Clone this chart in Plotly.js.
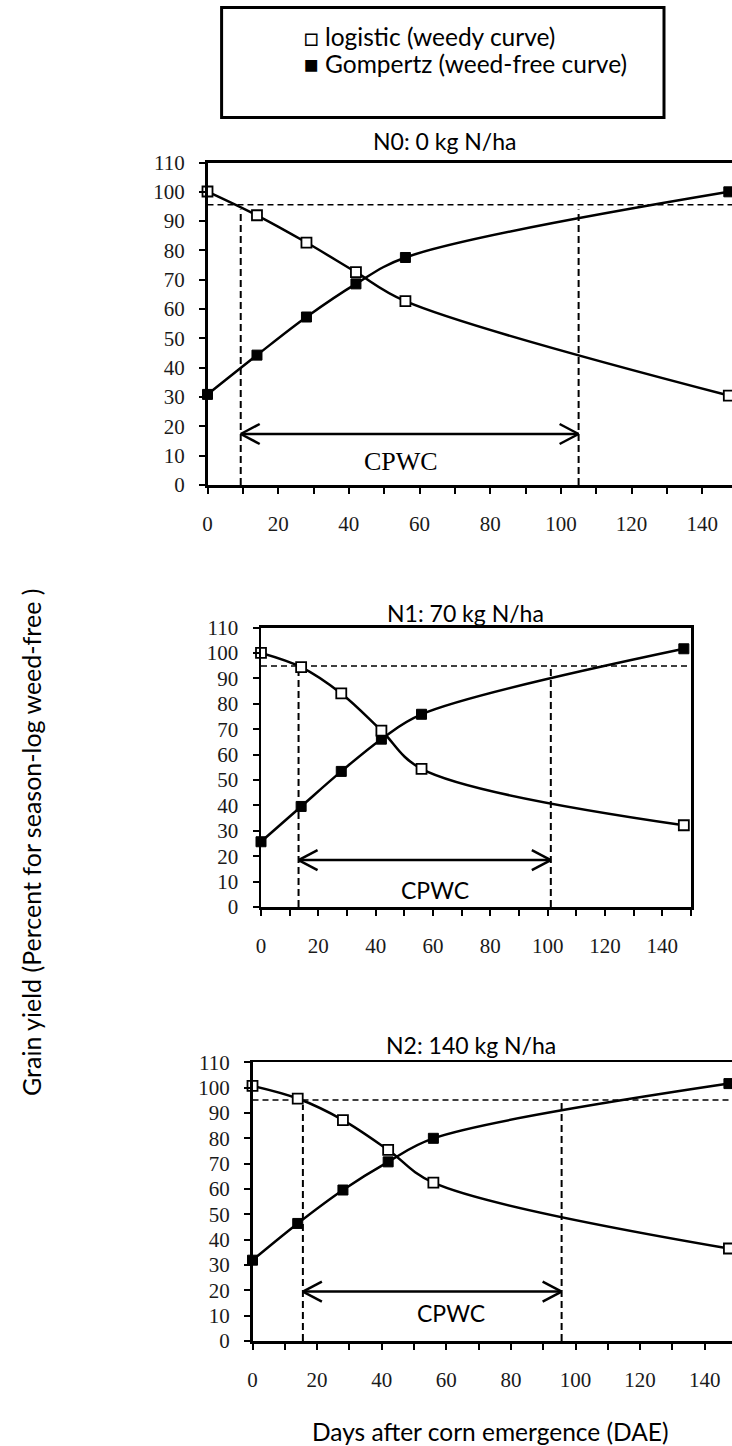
<!DOCTYPE html>
<html>
<head>
<meta charset="utf-8">
<script src="https://cdn.plot.ly/plotly-3.0.1.min.js"></script>
<style>html,body{margin:0;padding:0;background:#fff;}#chart{width:732px;height:1446px;}</style>
</head>
<body>
<div id="chart"></div>
<script>
// ---- data ----
const days = [0, 14, 28, 42, 56, 147.5];
const panelTitles = ["N0: 0 kg N/ha", "N1: 70 kg N/ha", "N2: 140 kg N/ha"];
const logisticN0 = [100.1, 92.0, 82.7, 72.6, 62.7, 30.5];
const gompertzN0 = [30.9, 44.3, 57.3, 68.6, 77.6, 100.0];
const logisticN1 = [100.1, 94.5, 84.1, 69.5, 54.4, 32.2];
const gompertzN1 = [25.7, 39.6, 53.4, 66.1, 75.9, 101.7];
const logisticN2 = [100.7, 95.7, 87.2, 75.4, 62.5, 36.5];
const gompertzN2 = [31.9, 46.4, 59.6, 70.7, 80.0, 101.6];
const yieldLevel = [95.6, 94.9, 95.1];      // horizontal dashed line (yield %)
const cpwcStart = [9.4, 13.1, 15.6];        // DAE
const cpwcEnd = [105.0, 101.1, 95.7];       // DAE
const cpwcLeftTop = [94, 94.6, 93.2];
const cpwcRightTop = [94, 94.9, 95.5];
const arrowLevel = [17.4, 18.5, 19.5];
const xTickVals = [0,10,20,30,40,50,60,70,80,90,100,110,120,130,140,150];
const xTickText = ["0","","20","","40","","60","","80","","100","","120","","140",""];
const yTickVals = [0,10,20,30,40,50,60,70,80,90,100,110];
const yTickText = ["0","10","20","30","40","50","60","70","80","90","100","110"];
const legendLabels = ["□ logistic (weedy curve)", "■ Gompertz (weed-free curve)"];
const xTitle = "Days after corn emergence (DAE)";
const yTitle = "Grain yield (Percent for season-log weed-free )";

const logistic = [logisticN0, logisticN1, logisticN2];
const gompertz = [gompertzN0, gompertzN1, gompertzN2];

// ---- layout geometry (pixels) ----
const W = 732, H = 1446;
const px = v => v / W;
const py = v => 1 - v / H;
const geo = [
  {l: 207.5, r: 732, t: 162.5, b: 485, xmax: 148.4, mirrorY: false},
  {l: 261, r: 691, t: 627.7, b: 907, xmax: 150, mirrorY: true},
  {l: 252.5, r: 732, t: 1062.3, b: 1341, xmax: 148.45, mirrorY: false}
];

const traces = [];
const shapes = [];
const annotations = [];
const layout = {
  width: W, height: H,
  margin: {l: 0, r: 0, t: 0, b: 0},
  paper_bgcolor: '#fff', plot_bgcolor: 'rgba(0,0,0,0)',
  font: {family: 'Liberation Serif, Times New Roman, serif', size: 21, color: '#1a1a1a'},
  showlegend: false,
  shapes: shapes, annotations: annotations
};

const serif = 'Liberation Serif, Times New Roman, serif';
const sansFont = 'Lato';

for (let i = 0; i < 3; i++) {
  const g = geo[i];
  const xa = i === 0 ? 'x' : 'x' + (i + 1);
  const ya = i === 0 ? 'y' : 'y' + (i + 1);
  const xk = i === 0 ? 'xaxis' : 'xaxis' + (i + 1);
  const yk = i === 0 ? 'yaxis' : 'yaxis' + (i + 1);
  layout[xk] = {
    domain: [px(g.l), px(g.r)], anchor: ya, range: [0, g.xmax],
    tickmode: 'array', tickvals: xTickVals, ticktext: xTickText,
    showline: true, linewidth: 2.5, linecolor: '#000', mirror: true,
    ticks: 'outside', ticklen: 6, tickwidth: 2, tickcolor: '#000',
    showgrid: false, zeroline: false,
    tickfont: {family: serif, size: 21, color: '#1a1a1a'}, ticklabelstandoff: 12
  };
  layout[yk] = {
    domain: [py(g.b), py(g.t)], anchor: xa, range: [0, 110],
    tickmode: 'array', tickvals: yTickVals, ticktext: yTickText,
    showline: true, linewidth: 2.5, linecolor: '#000', mirror: g.mirrorY,
    ticks: 'outside', ticklen: 6, tickwidth: 2, tickcolor: '#000',
    showgrid: false, zeroline: false,
    tickfont: {family: serif, size: 21, color: '#1a1a1a'}, ticklabelstandoff: 10
  };

  // dashed reference lines
  const dashV = {color: '#000', width: 2, dash: '7px,4px'};
  shapes.push({type: 'line', xref: xa, yref: ya, x0: 0, x1: 150, y0: yieldLevel[i], y1: yieldLevel[i],
    line: {color: '#000', width: 1.4, dash: '6px,4px'}, layer: 'below'});
  shapes.push({type: 'line', xref: xa, yref: ya, x0: cpwcStart[i], x1: cpwcStart[i], y0: 0, y1: cpwcLeftTop[i], line: dashV, layer: 'below'});
  shapes.push({type: 'line', xref: xa, yref: ya, x0: cpwcEnd[i], x1: cpwcEnd[i], y0: 0, y1: cpwcRightTop[i], line: dashV, layer: 'below'});

  // CPWC arrow
  const aLine = {color: '#000', width: 2.5};
  shapes.push({type: 'line', xref: xa, yref: ya, x0: cpwcStart[i], x1: cpwcEnd[i], y0: arrowLevel[i], y1: arrowLevel[i], line: aLine});
  [10, -10].forEach(dy => {
    shapes.push({type: 'line', xref: xa, yref: ya, xsizemode: 'pixel', ysizemode: 'pixel',
      xanchor: cpwcStart[i], yanchor: arrowLevel[i], x0: 0, x1: 19, y0: 0, y1: dy, line: aLine});
    shapes.push({type: 'line', xref: xa, yref: ya, xsizemode: 'pixel', ysizemode: 'pixel',
      xanchor: cpwcEnd[i], yanchor: arrowLevel[i], x0: 0, x1: -19, y0: 0, y1: dy, line: aLine});
  });

  traces.push({
    x: days, y: gompertz[i], xaxis: xa, yaxis: ya, type: 'scatter', mode: 'lines+markers',
    line: {color: '#000', width: 2.5, shape: 'spline', smoothing: 1},
    marker: {symbol: 'square', size: 10, color: '#000', line: {color: '#000', width: 1}},
    cliponaxis: false, hoverinfo: 'skip'
  });
  traces.push({
    x: days, y: logistic[i], xaxis: xa, yaxis: ya, type: 'scatter', mode: 'lines+markers',
    line: {color: '#000', width: 2.5, shape: 'spline', smoothing: 1},
    marker: {symbol: 'square', size: 10, color: '#fff', line: {color: '#000', width: 1.8}},
    cliponaxis: false, hoverinfo: 'skip'
  });
}

// panel titles
const titlePos = [[444.7, 141], [465.6, 613.3], [471, 1045]];
panelTitles.forEach((t, i) => {
  annotations.push({text: t, xref: 'paper', yref: 'paper', x: px(titlePos[i][0]), y: py(titlePos[i][1]),
    xanchor: 'center', yanchor: 'middle', showarrow: false,
    font: {family: sansFont, size: 23, color: '#000'}});
});

// CPWC labels
annotations.push({text: 'CPWC', xref: 'x', yref: 'y', x: 54.7, y: 7.95, showarrow: false,
  xanchor: 'center', yanchor: 'middle', font: {family: serif, size: 26, color: '#000'}});
annotations.push({text: 'CPWC', xref: 'x2', yref: 'y2', x: 60.7, y: 6.7, showarrow: false,
  xanchor: 'center', yanchor: 'middle', font: {family: sansFont, size: 23, color: '#000'}});
annotations.push({text: 'CPWC', xref: 'x3', yref: 'y3', x: 61.3, y: 11.2, showarrow: false,
  xanchor: 'center', yanchor: 'middle', font: {family: sansFont, size: 23, color: '#000'}});

// legend box
shapes.push({type: 'rect', xref: 'paper', yref: 'paper', x0: px(221.6), x1: px(664), y0: py(117.5), y1: py(7.5),
  line: {color: '#000', width: 3}, fillcolor: 'rgba(0,0,0,0)'});
annotations.push({text: legendLabels[0], xref: 'paper', yref: 'paper', x: px(302), y: py(36),
  xanchor: 'left', yanchor: 'middle', showarrow: false, font: {family: sansFont, size: 24.5, color: '#000'}});
annotations.push({text: legendLabels[1], xref: 'paper', yref: 'paper', x: px(302), y: py(64),
  xanchor: 'left', yanchor: 'middle', showarrow: false, font: {family: sansFont, size: 24.5, color: '#000'}});

// axis titles
annotations.push({text: xTitle, xref: 'paper', yref: 'paper', x: px(490), y: py(1431.7),
  xanchor: 'center', yanchor: 'middle', showarrow: false, font: {family: sansFont, size: 24.5, color: '#000'}});
annotations.push({text: yTitle, xref: 'paper', yref: 'paper', x: px(31), y: py(843), textangle: -90,
  xanchor: 'center', yanchor: 'middle', showarrow: false, font: {family: sansFont, size: 25, color: '#000'}});

Plotly.newPlot('chart', traces, layout, {staticPlot: true, displayModeBar: false});
</script>
</body>
</html>
